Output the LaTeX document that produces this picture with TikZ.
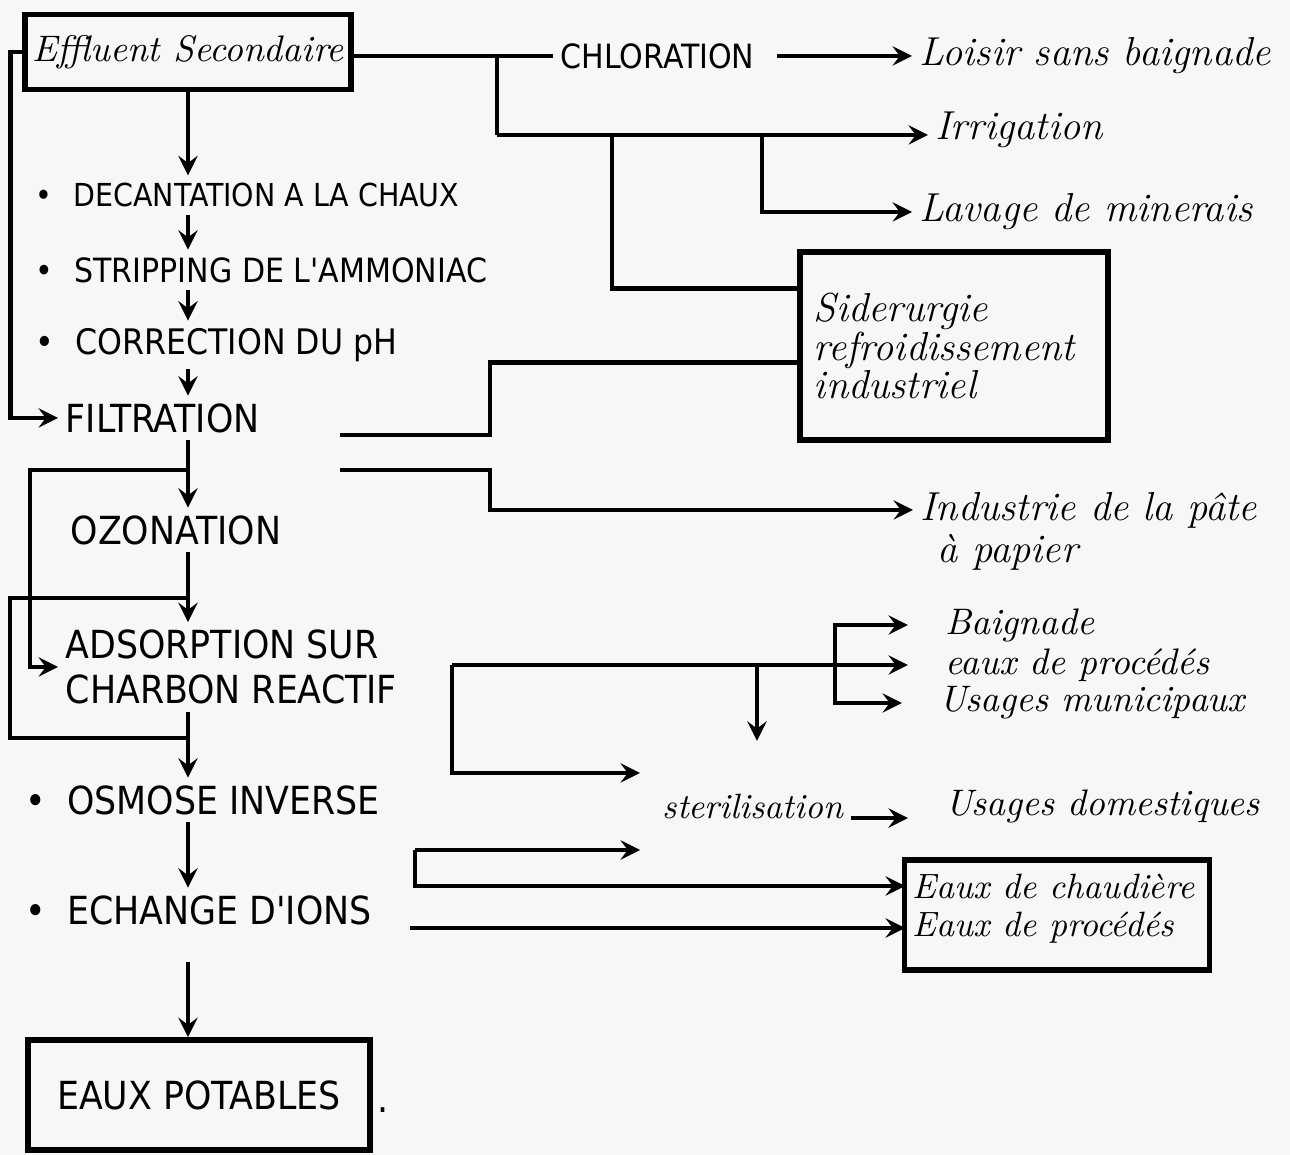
\documentclass[tikz,border=0pt]{standalone}
\usepackage{fontspec}
\newfontfamily\capsfont{DejaVu Sans Condensed}

\tikzset{
  caps/.style={font=\capsfont\fontsize{11}{12.8}\selectfont, anchor=west, inner sep=2pt},
  smallcaps/.style={caps, font=\capsfont\fontsize{9.5}{11}\selectfont},
  hand/.style={font=\itshape\fontsize{11.5}{11}\selectfont, anchor=west, inner sep=2pt},
  smallhand/.style={hand, font=\itshape\fontsize{10.5}{11}\selectfont},
  box/.style={draw, line width=1.6pt, inner sep=0pt},
  flow/.style={line width=1.4pt},
}

\begin{document}
\begin{tikzpicture}[x=0.01cm, y=-0.01cm, >=stealth]
        \fill[black!3] (0,0) rectangle (1290,1155);
        \useasboundingbox (0,0) rectangle (1290,1155);

        % traitements
        \node[box, smallhand, anchor=center, minimum width=3.17cm, minimum height=0.75cm] (sec) at (188,52) {Effluent Secondaire};
        \node[smallcaps, font=\capsfont\fontsize{9}{11}\selectfont] (decant) at (28,195) {\textbullet\hspace{6pt}DECANTATION A LA CHAUX};
        \node[smallcaps] (strip) at (28,270) {\textbullet\hspace{6pt}STRIPPING DE L'AMMONIAC};
        \node[caps, font=\capsfont\fontsize{10}{12}\selectfont] (corr) at (28,345) {\textbullet\hspace{6pt}CORRECTION DU pH};
        \node[caps] (filt) at (58,418) {FILTRATION};
        \node[caps] (ozon) at (63,530) {OZONATION};
        \node[caps, align=left] (adsorb) at (58,667) {ADSORPTION SUR\\CHARBON REACTIF};
        \node[caps] (osm) at (18,800) {\textbullet\hspace{6pt}OSMOSE INVERSE};
        \node[caps] (ech) at (18,910) {\textbullet\hspace{6pt}ECHANGE D'IONS};
        \node[box, caps, anchor=center, minimum width=3.42cm, minimum height=1.1cm] (pot) at (199,1095) {EAUX POTABLES};
        \node[caps] (potdot) at (370,1110) {.};

        % usages
        \node[smallcaps] (chlor) at (553,56) {CHLORATION};
        \node[hand] (loisir) at (912,56) {Loisir sans baignade};
        \node[hand] (irrig) at (928,130) {Irrigation};
        \node[hand] (lavage) at (912,212) {Lavage de minerais};
        \node[box, hand, anchor=center, align=left, text width=2.8cm, minimum width=3.08cm, minimum height=1.88cm] (sid) at (954,346) {Siderurgie\\refroidissement\\industriel};
        \node[hand] (pate1) at (913,510) {Industrie de la pâte};
        \node[hand] (pate2) at (930,552) {à papier};
        \node[smallhand] (baign) at (938,625) {Baignade};
        \node[smallhand] (eauxp) at (938,665) {eaux de procédés};
        \node[smallhand] (munic) at (932,703) {Usages municipaux};
        \node[hand, font=\itshape\fontsize{10}{11}\selectfont] (steril) at (655,806) {sterilisation};
        \node[smallhand] (domest) at (938,806) {Usages domestiques};
        \node[box, minimum width=3.05cm, minimum height=1.1cm] (chaud) at (1057,915) {};
        \node[hand, font=\itshape\fontsize{10}{11}\selectfont] (chaud1) at (905,886) {Eaux de chaudière};
        \node[hand, font=\itshape\fontsize{10}{11}\selectfont] (chaud2) at (905,928) {Eaux de procédés};

        % filiere principale
        \draw[flow,->] (sec.south) -- (sec.south |- decant.north);
        \draw[flow,->] (sec.south |- decant.south) -- (sec.south |- strip.north);
        \draw[flow,->] (sec.south |- strip.south) -- (sec.south |- corr.north);
        \draw[flow,->] (sec.south |- corr.south) -- (sec.south |- filt.north);
        \draw[flow,->] (sec.south |- filt.south) -- (sec.south |- ozon.north);
        \draw[flow,->] (sec.south |- ozon.south) -- (sec.south |- adsorb.north);
        \draw[flow,->] (sec.south |- adsorb.south) -- (sec.south |- osm.north);
        \draw[flow,->] (sec.south |- osm.south) -- (sec.south |- ech.north);
        \draw[flow,->,shorten <=0.3cm] (sec.south |- ech.south) -- (sec.south |- pot.north);

        % derivations
        \draw[flow,->] (sec.west) -- ++(-12,0) |- (filt.west);
        \coordinate (b1) at (188,470);
        \draw[flow,->] (b1) -- ++(-158,0) |- (adsorb.west);
        \coordinate (b2) at (188,598);
        \coordinate (b3) at (188,738);
        \draw[flow] (b2) -- ++(-178,0) |- (b3);

        % chloration
        \draw[flow] (sec.east |- chlor.west) -- (chlor.west);
        \draw[flow,->,shorten <=0.15cm] (chlor.east) -- (loisir.west);
        \coordinate (j1) at (497,56);
        \coordinate (j2) at (497,135);
        \draw[flow] (j1) -- (j2);
        \draw[flow,->] (j2) -- (j2 -| irrig.west);
        \coordinate (j3) at (612,135);
        \draw[flow] (j3) |- (sid.160);
        \coordinate (j4) at (762,135);
        \draw[flow,->] (j4) |- (lavage.west);

        % apres filtration
        \coordinate (f1) at (340,435);
        \coordinate (f2) at (340,470);
        \draw[flow] (f1) -- ++(150,0) |- (sid.186);
        \draw[flow,->] (f2) -- ++(150,0) |- (pate1.west);

        % apres adsorption
        \coordinate (a1) at (452,665);
        \coordinate (a2) at (835,665);
        \coordinate (a3) at (757,665);
        \coordinate (s1) at (640,773);
        \draw[flow,->,shorten >=0.3cm] (a1) -- (eauxp.west);
        \draw[flow,->,shorten >=0.3cm] (a2) |- (baign.west);
        \draw[flow,->,shorten >=0.3cm] (a2) |- (munic.west);
        \draw[flow,->,shorten >=0.45cm] (a3) -- (a3 |- steril.north);
        \draw[flow,->] (a1) |- (s1);
        \draw[flow,->,shorten >=0.3cm] (steril.base east) -- (steril.base east -| domest.west);

        % osmose, echange d'ions
        \coordinate (o1) at (415,850);
        \coordinate (s2) at (640,850);
        \draw[flow,->] (o1) -- (s2);
        \draw[flow,->] (o1) |- (chaud1.west);
        \coordinate (e1) at (410,928);
        \draw[flow,->] (e1) -- (chaud2.west);
\end{tikzpicture}
\end{document}
